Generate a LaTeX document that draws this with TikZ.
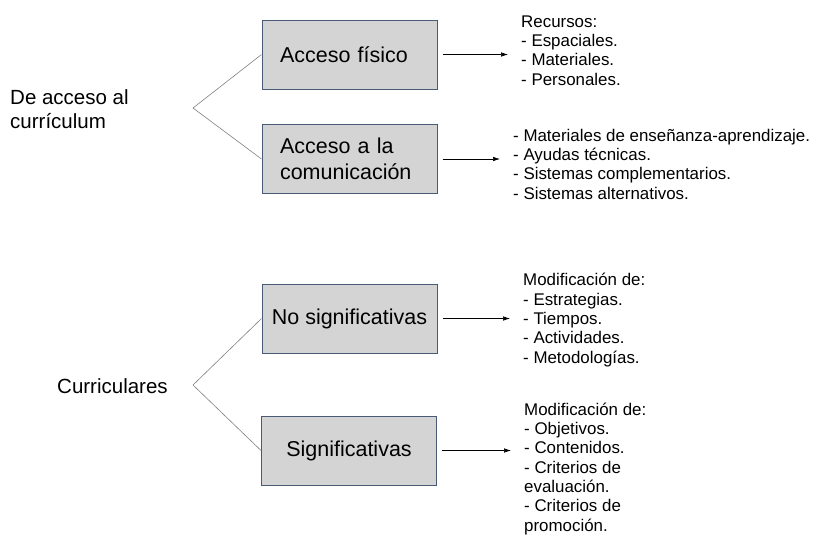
\documentclass[tikz,border=0pt]{standalone}
\usepackage{fontspec}
\setmainfont{Liberation Sans}
\usepackage{tikz}
\usetikzlibrary{arrows.meta}
\definecolor{cajagris}{RGB}{212,212,212}
\definecolor{cajaborde}{RGB}{74,90,118}

\begin{document}
\begin{tikzpicture}[x=1pt, y=-1pt,
  caja/.style={draw=cajaborde, fill=cajagris, line width=1pt, minimum width=175pt, minimum height=69pt, align=left, font=\fontsize{21.5}{25.5}\selectfont},
  cajaizq/.style={caja, text width=139pt, inner xsep=18pt},
  lista/.style={anchor=base west, inner sep=0pt, align=left, font=\fontsize{16.9}{19.3}\selectfont},
  titulo/.style={anchor=base west, inner sep=0pt, align=left, font=\fontsize{20.5}{24}\selectfont},
  rama/.style={draw=gray, line width=0.6pt},
  flecha/.style={-{Latex[length=7pt,width=4.5pt]}, line width=0.6pt, shorten <=5pt, shorten >=13pt}]
 \useasboundingbox (0,0) rectangle (815,539);
 % acceso al curriculum
 \node[titulo] (acc) at (10,128) {De acceso al\\currículum};
 \coordinate (ap1) at (193,108);
 \node[cajaizq] (fis) at (349.5,54.5) {Acceso físico};
 \node[cajaizq] (com) at (349.5,159) {Acceso a la\\comunicación};
 \draw[rama] (fis.west) -- (ap1) -- (com.west);
 \node[lista] (rec) at (521,85) {Recursos:\\- Espaciales.\\- Materiales.\\- Personales.};
 \node[lista] (mat) at (513,199) {- Materiales de enseñanza-aprendizaje.\\- Ayudas técnicas.\\- Sistemas complementarios.\\- Sistemas alternativos.};
 \draw[flecha] (fis.east) -- (fis.east -| rec.west);
 \draw[flecha] (com.east) -- (com.east -| mat.west);
 % curriculares
 \node[titulo] (cur) at (57,393) {Curriculares};
 \coordinate (ap2) at (193,385);
 \node[caja] (nosig) at (349.5,318.5) {No significativas};
 \node[caja] (sig) at (349,450.5) {Significativas};
 \draw[rama] (nosig.west) -- (ap2) -- (sig.west);
 \node[lista] (mod1) at (523,363) {Modificación de:\\- Estrategias.\\- Tiempos.\\- Actividades.\\- Metodologías.};
 \node[lista] (mod2) at (524,531) {Modificación de:\\- Objetivos.\\- Contenidos.\\- Criterios de\\evaluación.\\- Criterios de\\promoción.};
 \draw[flecha] (nosig.east) -- (nosig.east -| mod1.west);
 \draw[flecha] (sig.east) -- (sig.east -| mod2.west);
\end{tikzpicture}
\end{document}
